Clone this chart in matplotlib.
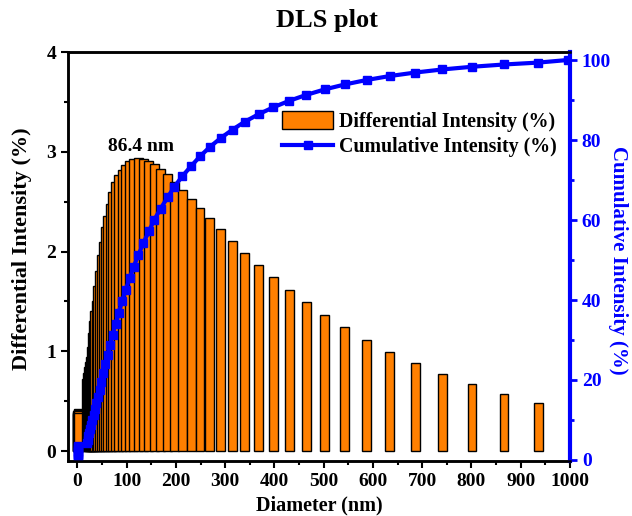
import matplotlib
matplotlib.use("Agg")
import matplotlib.pyplot as plt
from matplotlib.ticker import MultipleLocator

plt.rcParams.update({"font.family": ["Liberation Serif", "DejaVu Serif"],
                     "font.weight": "bold", "axes.labelweight": "bold",
                     "font.size": 14})

# diameters (nm)
diameter = [0.5, 0.7, 0.9, 1.1, 1.3, 1.5, 1.7, 1.9, 2.1,
            19.1, 20.6, 22.3, 24.1, 26.1, 28.2, 30.5, 32.9, 35.6, 38.5,
            41.6, 45.0, 48.6, 52.6, 56.8, 61.4, 66.4, 71.8, 77.6, 83.9,
            90.7, 98.0, 106, 114.5, 124, 134, 145, 156, 169, 183,
            197, 213, 231, 249, 269, 291, 315, 340, 368, 398,
            430, 465, 502, 543, 587, 634, 686, 741, 801, 866, 936]
differential = [0.37, 0.38, 0.39, 0.40, 0.41, 0.42, 0.41, 0.40, 0.38,
                0.72, 0.78, 0.84, 0.89, 0.94, 1.04, 1.18, 1.30, 1.40, 1.50,
                1.65, 1.80, 1.97, 2.10, 2.25, 2.36, 2.48, 2.60, 2.70, 2.77,
                2.82, 2.87, 2.91, 2.93, 2.94, 2.93, 2.91, 2.88, 2.83, 2.78,
                2.70, 2.62, 2.53, 2.44, 2.34, 2.23, 2.11, 1.99, 1.86, 1.74,
                1.61, 1.49, 1.36, 1.24, 1.11, 0.99, 0.88, 0.77, 0.67, 0.57, 0.48]
# cumulative curve has one extra point near 1000 nm
cum_diameter = diameter + [995]
cumulative = [0.37, 0.75, 1.14, 1.54, 1.95, 2.37, 2.78, 3.18, 3.56,
              4.28, 5.06, 5.90, 6.79, 7.73, 8.77, 9.95, 11.25, 12.65, 14.15,
              15.80, 17.60, 19.57, 21.67, 23.92, 26.28, 28.76, 31.36, 34.06, 36.83,
              39.65, 42.52, 45.43, 48.36, 51.30, 54.23, 57.14, 60.02, 62.85, 65.63,
              68.33, 70.95, 73.48, 75.92, 78.26, 80.49, 82.60, 84.59, 86.45, 88.19,
              89.80, 91.29, 92.65, 93.89, 95.00, 95.99, 96.87, 97.64, 98.31, 98.88, 99.36,
              100.0]

ORANGE, BLUE = "#ff8000", "#0000ff"

fig = plt.figure(figsize=(6.32, 5.16), dpi=100)
ax = fig.add_axes([0.1076, 0.1066, 0.7943, 0.7926])
ax2 = ax.twinx()

bars = ax.bar(diameter, differential, width=18, color=ORANGE, edgecolor="black",
              linewidth=1.0, label="Differential Intensity (%)")
line, = ax2.plot(cum_diameter, cumulative, color=BLUE, lw=3, marker="s", markersize=6,
                 label="Cumulative Intensity (%)")

ax.set_xlim(-19, 1000)
ax.set_ylim(-0.1, 4.0)
ax2.set_ylim(-0.25, 102)

ax.xaxis.set_major_locator(MultipleLocator(100))
ax.xaxis.set_minor_locator(MultipleLocator(50))
ax.yaxis.set_major_locator(MultipleLocator(1))
ax.yaxis.set_minor_locator(MultipleLocator(0.5))
ax2.yaxis.set_major_locator(MultipleLocator(20))
ax2.yaxis.set_minor_locator(MultipleLocator(10))

for a in (ax, ax2):
    for s in a.spines.values():
        s.set_linewidth(1.8)
ax2.spines["right"].set_color(BLUE)
ax2.spines["right"].set_linewidth(3)
ax.tick_params(which="major", direction="out", length=5, width=1.5, labelsize=14)
ax.tick_params(which="minor", direction="out", length=3, width=1.5)
ax.tick_params(top=False, which="both")
ax2.tick_params(which="major", direction="out", length=5, width=2, colors=BLUE, labelsize=14)
ax2.tick_params(which="minor", direction="out", length=3, width=2, colors=BLUE)

ax.set_xlabel("Diameter (nm)", fontsize=14.5, va="center")
ax.xaxis.set_label_coords(0.5, -0.108)
ax.set_ylabel("Differential Intensity (%)", fontsize=16, va="center")
ax.yaxis.set_label_coords(-0.092, 0.52)
ax2.set_ylabel("Cumulative Intensity (%)", fontsize=15, color=BLUE, rotation=270, va="center")
ax2.yaxis.set_label_coords(1.096, 0.49)
fig.text(327 / 632, 1 - 20 / 516, "DLS plot", ha="center", va="center", fontsize=19, fontweight="bold")

ax.text(129, 3.05, "86.4 nm", ha="center", va="center", fontsize=14, fontweight="bold")

ax2.legend([bars, line], [bars.get_label(), line.get_label()], loc="upper right",
           bbox_to_anchor=(0.99, 0.875), frameon=False, fontsize=14.3,
           handlelength=2.6, handleheight=1.0, handletextpad=0.3,
           borderaxespad=0, labelspacing=0.25)

fig.savefig("out.png", dpi=100)
